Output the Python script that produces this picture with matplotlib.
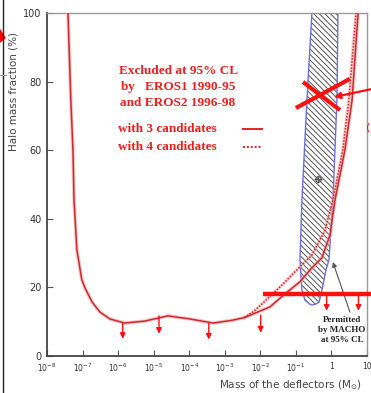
import numpy as np
import matplotlib
matplotlib.use("Agg")
import matplotlib.pyplot as plt

# EROS exclusion curve, log10(M) vs halo fraction (%), shared low-mass part
low_logm = [-7.41, -7.33, -7.27, -7.24, -7.16, -7.02, -6.93, -6.73, -6.51, -6.23,
            -5.81, -5.24, -4.60, -3.98, -3.33, -2.80, -2.45]
low_frac = [100, 74.6, 60.0, 45.5, 30.9, 22.2, 19.8, 15.7, 12.8, 10.8,
            9.6, 10.2, 11.7, 10.8, 9.6, 10.4, 11.2]

# high-mass branch, 3 candidates (solid)
c3_logm = [-2.45, -2.15, -1.73, -1.31, -0.89, -0.55, -0.27, -0.04, 0.10, 0.38, 0.58, 0.75]
c3_frac = [11.2, 12.5, 14.3, 18.1, 21.6, 25.7, 28.6, 35.3, 45.5, 60.1, 74.6, 100]

# high-mass branch, 4 candidates (dotted)
c4_logm = [-2.45, -2.20, -1.95, -1.39, -1.03, -0.75, -0.55, -0.18, 0.04, 0.32, 0.49, 0.69]
c4_frac = [11.2, 12.9, 15.2, 20.7, 24.5, 27.4, 29.4, 36.7, 45.5, 60.1, 74.6, 100]

# MACHO permitted region outline
macho_logm = [-0.55, -0.69, -0.83, -0.885, -0.83, -0.745, -0.62, -0.548, -0.45, -0.35,
              -0.267, -0.155, -0.07, 0.042, 0.155, 0.183]
macho_frac = [100, 74.6, 45.5, 28.0, 19.2, 16.3, 15.2, 14.9, 15.1, 15.7,
              19.2, 25.0, 28.0, 45.5, 74.6, 100]
macho_best = (-0.38, 51.6)

# downward arrows
arrow_logm = [-5.87, -4.85, -3.45, -1.99, -0.135, 0.76]
arrow_top = [9.6, 11.7, 9.6, 11.9, 18.1, 18.1]
arrow_tip = [5.0, 6.5, 4.8, 6.8, 13.2, 13.2]

xticks = [1e-8, 1e-7, 1e-6, 1e-5, 1e-4, 1e-3, 1e-2, 1e-1, 1, 10]
xticklabels = [r'$10^{-8}$', r'$10^{-7}$', r'$10^{-6}$', r'$10^{-5}$', r'$10^{-4}$',
               r'$10^{-3}$', r'$10^{-2}$', r'$10^{-1}$', '1', '10']
yticks = [0, 20, 40, 60, 80, 100]

plt.rcParams['hatch.color'] = '#555555'
plt.rcParams['hatch.linewidth'] = 0.7

W, H = 371, 393
fig = plt.figure(figsize=(W / 100, H / 100), dpi=100)
ax = fig.add_axes([47 / W, 1 - 356 / H, 320 / W, 343 / H])

p = lambda v: 10 ** np.asarray(v)

# hatched MACHO region: gray hatch, blue outline
ax.fill(p(macho_logm), macho_frac, facecolor='white', edgecolor='#555555',
        lw=0, hatch='\\\\\\\\\\\\', zorder=2)
ax.fill(p(macho_logm), macho_frac, facecolor='none', edgecolor='#6f6fd8',
        lw=1.0, zorder=2)
ax.plot(p(macho_best[0]), macho_best[1], marker='o', ms=4, mfc='none', mec='#444444', mew=0.8, zorder=3)
ax.plot(p(macho_best[0]), macho_best[1], marker='+', ms=6, color='#444444', mew=0.6, zorder=3)

red = '#cc2a30'
halo = '#f0a0a0'
x_solid = np.concatenate([p(low_logm), p(c3_logm[1:])])
y_solid = low_frac + c3_frac[1:]
ax.plot(x_solid, y_solid, color=halo, lw=2.6, alpha=0.6, zorder=3, solid_capstyle='round')
ax.plot(x_solid, y_solid, color=red, lw=1.1, zorder=4)
ax.plot(p(c4_logm), c4_frac, color=halo, lw=2.4, alpha=0.5, zorder=3)
ax.plot(p(c4_logm), c4_frac, color=red, lw=1.1, ls=(0, (1, 1)), zorder=4)

# arrows
for lm, top, tip in zip(arrow_logm, arrow_top, arrow_tip):
    ax.annotate('', xy=(p(lm), tip), xytext=(p(lm), top),
                arrowprops=dict(arrowstyle='-|>', color='#ff1010', lw=1.0,
                                mutation_scale=8, shrinkA=0, shrinkB=0), zorder=6)

# horizontal red bar
ax.plot([p(-1.93), p(1.12)], [18.1, 18.1], color='#ff1010', lw=3.2, clip_on=False,
        solid_capstyle='butt', zorder=6)

# red X over the MACHO region
ax.plot([p(-0.80), p(0.24)], [79.9, 71.7], color='#ff1010', lw=3.0, zorder=6, solid_capstyle='butt')
ax.plot([p(-1.00), p(0.52)], [72.3, 80.8], color='#ff1010', lw=3.0, zorder=6, solid_capstyle='butt')
ax.annotate('', xy=(p(0.07), 75.5), xytext=(p(1.12), 77.8),
            arrowprops=dict(arrowstyle='-|>', color='#ff1010', lw=1.6, mutation_scale=9,
                            shrinkA=0, shrinkB=0), annotation_clip=False, zorder=7)

# gray arrow to MACHO region
ax.annotate('', xy=(p(0.04), 27.4), xytext=(p(0.52), 12.8),
            arrowprops=dict(arrowstyle='-|>', color='#555555', lw=0.8, mutation_scale=7,
                            shrinkA=0, shrinkB=0), zorder=5)
ax.text(p(0.30), 7.6, 'Permitted\nby MACHO\nat 95% CL', ha='center', va='center',
        family='Liberation Serif', fontweight='bold', fontsize=6.5, color='#222222',
        linespacing=1.35, zorder=7)

ax.set_xscale('log')
ax.set_xlim(1e-8, 10)
ax.set_ylim(0, 100)
ax.set_xticks(xticks)
ax.set_xticklabels(xticklabels)
ax.set_yticks(yticks)
ax.minorticks_off()
ax.tick_params(direction='in', length=4, width=0.8, colors='#555555', labelcolor='#333333')
ax.tick_params(axis='x', labelsize=5.5, pad=4)
ax.tick_params(axis='y', labelsize=7, pad=4)
for s in ['left', 'bottom']:
    ax.spines[s].set_color('#444444')
    ax.spines[s].set_linewidth(1.3)
for s in ['top', 'right']:
    ax.spines[s].set_color('#999999')
    ax.spines[s].set_linewidth(1.0)

ax.set_ylabel('Halo mass fraction (%)', fontsize=7.5, color='#444444', labelpad=5)
ax.yaxis.set_label_coords(-0.09, 0.77)
ax.set_xlabel(r'Mass of the deflectors (M$_{\odot}$)', fontsize=7.5, color='#444444')
ax.xaxis.set_label_coords(0.76, -0.065)

# red legend text
tred = '#e82020'
lines = [('Excluded at 95% CL', 119, 71), ('by   EROS1 1990-95', 121, 87),
         ('and EROS2 1996-98', 120, 103), ('with 3 candidates', 118, 129),
         ('with 4 candidates', 118, 147)]
for s, x, y in lines:
    fig.text(x / W, 1 - y / H, s, ha='left', va='center', color=tred,
             family='Liberation Serif', fontweight='bold', fontsize=9.5)
fig.add_artist(plt.Line2D([243 / W, 262 / W], [1 - 129 / H] * 2, color=tred, lw=1.4))
fig.add_artist(plt.Line2D([243 / W, 262 / W], [1 - 147 / H] * 2, color=tred, lw=1.4, ls=(0, (1, 1))))

# slide fragments at the edges
fig.add_artist(plt.Line2D([3 / W, 3 / W], [0, 1], color='#222222', lw=1.0))
fig.add_artist(plt.Polygon([[0, 1 - 30 / H], [5 / W, 1 - 38 / H], [0, 1 - 42 / H]],
                           closed=True, color='red'))
fig.add_artist(plt.Line2D([0, 6 / W], [1 - 75 / H] * 2, color='#999999', lw=0.8))
fig.text(366 / W, 1 - 128 / H, '(', color='red', fontsize=8, ha='left', va='center')

fig.savefig('out.png', dpi=100)
